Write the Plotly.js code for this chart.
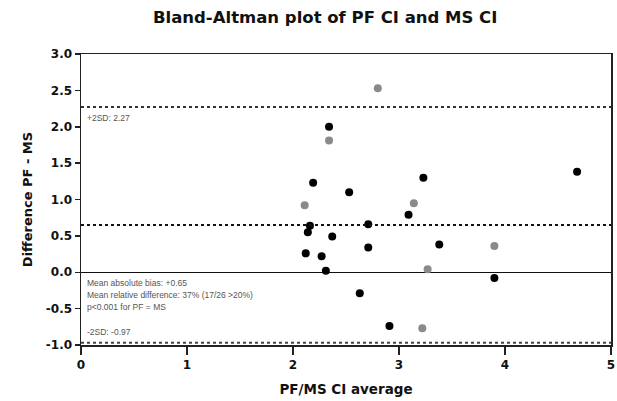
<!DOCTYPE html>
<html>
<head>
<meta charset="utf-8">
<script src="https://cdn.plot.ly/plotly-3.0.1.min.js"></script>
<style>
  html, body { margin: 0; padding: 0; background: #fff; }
  #chart { width: 617px; height: 401px; }
</style>
</head>
<body>
<div id="chart"></div>
<script>
// PF/MS CI average (x) and difference PF - MS (y)
const avgBlack  = [2.34, 2.19, 2.16, 2.14, 2.37, 2.53, 3.23, 3.09, 2.71, 4.68, 2.12, 2.27, 2.31, 2.71, 3.38, 3.90, 2.63, 2.91];
const diffBlack = [2.00, 1.23, 0.64, 0.55, 0.49, 1.10, 1.30, 0.79, 0.66, 1.38, 0.26, 0.22, 0.02, 0.34, 0.38, -0.08, -0.29, -0.74];
const avgGray   = [2.34, 2.11, 2.80, 3.14, 3.90, 3.27, 3.22];
const diffGray  = [1.81, 0.92, 2.53, 0.95, 0.36, 0.04, -0.77];

// Limits of agreement and mean bias
const upperSD = 2.27;
const meanBias = 0.65;
const lowerSD = -0.97;

const xTicks = [0, 1, 2, 3, 4, 5];
const yTicks = [-1.0, -0.5, 0.0, 0.5, 1.0, 1.5, 2.0, 2.5, 3.0];
const yTickText = ['-1.0', '-0.5', '0.0', '0.5', '1.0', '1.5', '2.0', '2.5', '3.0'];

const boldFont = { family: 'DejaVu Sans, Arial, sans-serif', color: '#111', weight: 'bold' };
const noteFont = { family: 'Liberation Sans, Arial, sans-serif', size: 8.5, color: '#555' };

const traces = [
  {
    x: avgBlack, y: diffBlack, type: 'scatter', mode: 'markers',
    marker: { color: '#000', size: 8 }, hoverinfo: 'x+y'
  },
  {
    x: avgGray, y: diffGray, type: 'scatter', mode: 'markers',
    marker: { color: '#8a8a8a', size: 8 }, hoverinfo: 'x+y'
  }
];

function hline(val, color) {
  return {
    type: 'line', xref: 'paper', x0: 0, x1: 1, yref: 'y', y0: val, y1: val,
    line: { color: color, width: 2, dash: 'dot' }
  };
}

const layout = {
  width: 617, height: 401,
  margin: { l: 81, r: 6, t: 54, b: 56 },
  paper_bgcolor: '#fff', plot_bgcolor: '#fff',
  showlegend: false,
  title: {
    text: 'Bland-Altman plot of PF CI and MS CI',
    font: Object.assign({}, boldFont, { size: 16.5 }),
    x: 0.527, xanchor: 'center', xref: 'container',
    y: 0.957, yanchor: 'middle', yref: 'container'
  },
  xaxis: {
    range: [0, 5], tickvals: xTicks, ticktext: xTicks.map(String),
    showgrid: false, zeroline: false,
    showline: true, linecolor: '#222', linewidth: 1.5, mirror: true,
    ticks: 'outside', ticklen: 8, tickwidth: 1.5, tickcolor: '#222',
    tickfont: Object.assign({}, boldFont, { size: 12 }),
    title: { text: 'PF/MS CI average', font: Object.assign({}, boldFont, { size: 13.5 }), standoff: 13 }
  },
  yaxis: {
    range: [-1, 3], tickvals: yTicks, ticktext: yTickText,
    showgrid: false,
    zeroline: true, zerolinecolor: '#111', zerolinewidth: 1.5,
    showline: true, linecolor: '#222', linewidth: 1.5, mirror: true,
    ticks: 'outside', ticklen: 5, tickwidth: 1.5, tickcolor: '#222',
    tickfont: Object.assign({}, boldFont, { size: 12 }),
    title: { text: 'Difference PF - MS', font: Object.assign({}, boldFont, { size: 13 }), standoff: 10 }
  },
  shapes: [
    hline(upperSD, '#333'),
    hline(meanBias, '#111'),
    hline(lowerSD, '#444')
  ],
  annotations: [
    { xref: 'paper', yref: 'y', x: 0.008, y: upperSD, yshift: -11, xanchor: 'left', yanchor: 'middle',
      text: '+2SD: ' + upperSD.toFixed(2), showarrow: false, font: noteFont },
    { xref: 'paper', yref: 'y', x: 0.008, y: 0, yshift: -11, xanchor: 'left', yanchor: 'middle',
      text: 'Mean absolute bias: +' + meanBias.toFixed(2), showarrow: false, font: noteFont },
    { xref: 'paper', yref: 'y', x: 0.008, y: 0, yshift: -23, xanchor: 'left', yanchor: 'middle',
      text: 'Mean relative difference: 37% (17/26 >20%)', showarrow: false, font: noteFont },
    { xref: 'paper', yref: 'y', x: 0.008, y: 0, yshift: -35, xanchor: 'left', yanchor: 'middle',
      text: 'p<0.001 for PF = MS', showarrow: false, font: noteFont },
    { xref: 'paper', yref: 'y', x: 0.008, y: lowerSD, yshift: 11, xanchor: 'left', yanchor: 'middle',
      text: '-2SD: ' + lowerSD.toFixed(2), showarrow: false, font: noteFont }
  ]
};

Plotly.newPlot('chart', traces, layout, { displayModeBar: false, staticPlot: true });
</script>
</body>
</html>
